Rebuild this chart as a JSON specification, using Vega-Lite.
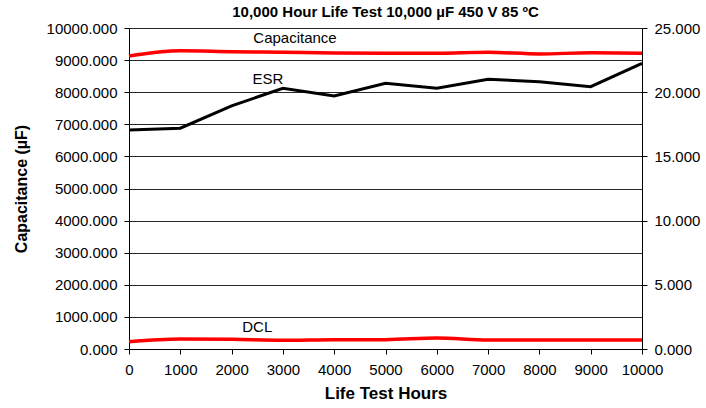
{
  "$schema": "https://vega.github.io/schema/vega-lite/v6.json",
  "width": 513,
  "height": 321,
  "autosize": {"type": "none"},
  "padding": {"left": 129, "top": 28, "right": 64, "bottom": 59},
  "background": "white",
  "config": {
    "font": "Liberation Sans",
    "view": {"stroke": null},
    "axis": {"labelFont": "Liberation Sans", "titleFont": "Liberation Sans", "labelColor": "black", "titleColor": "black", "domainColor": "black", "tickColor": "black", "labelFontSize": 15, "titleFontSize": 16}
  },
  "title": {"text": "10,000 Hour Life Test 10,000 µF 450 V 85 ºC", "fontSize": 15, "fontWeight": "bold", "font": "Liberation Sans", "color": "black", "anchor": "middle", "offset": 1},
  "datasets": {
    "left": [
      {"hours": 0, "series": "Capacitance", "value": 9129},
      {"hours": 1000, "series": "Capacitance", "value": 9290},
      {"hours": 2000, "series": "Capacitance", "value": 9262},
      {"hours": 3000, "series": "Capacitance", "value": 9244},
      {"hours": 4000, "series": "Capacitance", "value": 9222},
      {"hours": 5000, "series": "Capacitance", "value": 9213},
      {"hours": 6000, "series": "Capacitance", "value": 9213},
      {"hours": 7000, "series": "Capacitance", "value": 9244},
      {"hours": 8000, "series": "Capacitance", "value": 9191},
      {"hours": 9000, "series": "Capacitance", "value": 9228},
      {"hours": 10000, "series": "Capacitance", "value": 9213},
      {"hours": 0, "series": "DCL", "value": 228},
      {"hours": 1000, "series": "DCL", "value": 310},
      {"hours": 2000, "series": "DCL", "value": 300},
      {"hours": 3000, "series": "DCL", "value": 270},
      {"hours": 4000, "series": "DCL", "value": 290},
      {"hours": 5000, "series": "DCL", "value": 292},
      {"hours": 6000, "series": "DCL", "value": 340},
      {"hours": 7000, "series": "DCL", "value": 281},
      {"hours": 8000, "series": "DCL", "value": 281},
      {"hours": 9000, "series": "DCL", "value": 281},
      {"hours": 10000, "series": "DCL", "value": 281}
    ],
    "esr": [
      {"hours": 0, "value": 17.06},
      {"hours": 1000, "value": 17.2},
      {"hours": 2000, "value": 18.93},
      {"hours": 3000, "value": 20.31},
      {"hours": 4000, "value": 19.71},
      {"hours": 5000, "value": 20.7},
      {"hours": 6000, "value": 20.31},
      {"hours": 7000, "value": 21.01},
      {"hours": 8000, "value": 20.82},
      {"hours": 9000, "value": 20.43},
      {"hours": 10000, "value": 22.25}
    ],
    "leftLabels": [
      {"hours": 3236, "value": 9689, "label": "Capacitance"},
      {"hours": 2500, "value": 685, "label": "DCL"}
    ],
    "esrLabels": [
      {"hours": 2710, "value": 21.03, "label": "ESR"}
    ]
  },
  "encoding": {
    "x": {
      "field": "hours", "type": "quantitative",
      "scale": {"domain": [0, 10000], "nice": false, "zero": false},
      "axis": {"values": [0,1000,2000,3000,4000,5000,6000,7000,8000,9000,10000], "format": "d", "grid": false, "title": "Life Test Hours", "titleFontWeight": "bold", "titleFontSize": 17, "tickSize": 5, "labelPadding": 8, "titlePadding": 8, "labelFlush": false}
    }
  },
  "layer": [
    {
      "encoding": {
        "y": {
          "field": "value", "type": "quantitative",
          "scale": {"domain": [0, 10000], "nice": false},
          "axis": {"orient": "left", "values": [0,1000,2000,3000,4000,5000,6000,7000,8000,9000,10000], "format": ".3f", "grid": true, "gridColor": "black", "gridOpacity": 0.85, "gridWidth": 1, "tickSize": 5, "labelPadding": 7, "title": "Capacitance (µF)", "titleFontWeight": "bold", "titlePadding": 17}
        }
      },
      "layer": [
        {
          "data": {"name": "left"},
          "mark": {"type": "line", "color": "#ff0000", "strokeWidth": 3.5, "interpolate": "monotone"},
          "encoding": {"detail": {"field": "series"}}
        },
        {
          "data": {"name": "leftLabels"},
          "mark": {"type": "text", "fontSize": 15, "color": "black", "font": "Liberation Sans"},
          "encoding": {"text": {"field": "label"}}
        }
      ]
    },
    {
      "encoding": {
        "y": {
          "field": "value", "type": "quantitative",
          "scale": {"domain": [0, 25], "nice": false},
          "axis": {"orient": "right", "values": [0,5,10,15,20,25], "format": ".3f", "grid": false, "tickSize": 5, "labelPadding": 7, "title": null}
        }
      },
      "layer": [
        {
          "data": {"name": "esr"},
          "mark": {"type": "line", "color": "black", "strokeWidth": 3}
        },
        {
          "data": {"name": "esrLabels"},
          "mark": {"type": "text", "fontSize": 15, "color": "black", "font": "Liberation Sans"},
          "encoding": {"text": {"field": "label"}}
        }
      ]
    }
  ],
  "resolve": {"scale": {"y": "independent"}}
}
